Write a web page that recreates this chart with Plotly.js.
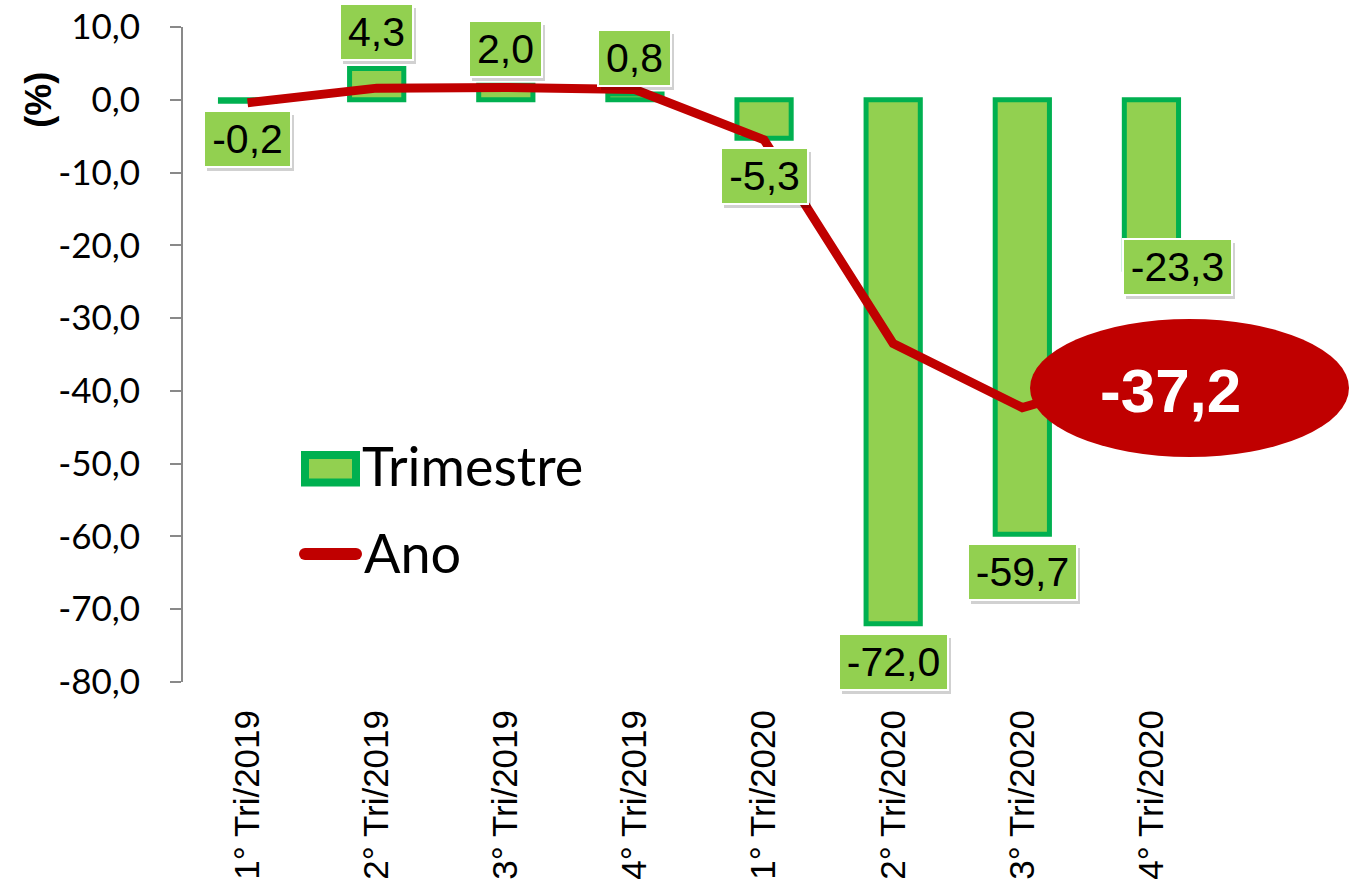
<!DOCTYPE html>
<html>
<head>
<meta charset="utf-8">
<script src="https://cdn.plot.ly/plotly-3.0.1.min.js"></script>
<style>
  html, body { margin: 0; padding: 0; background: #ffffff; }
  #chart { width: 1351px; height: 885px; }
</style>
</head>
<body>
<div id="chart"></div>
<script>
// Variação percentual: trimestre contra trimestre e acumulado em 12 meses
const categorias = ['1° Tri/2019', '2° Tri/2019', '3° Tri/2019', '4° Tri/2019',
                    '1° Tri/2020', '2° Tri/2020', '3° Tri/2020', '4° Tri/2020'];
const trimestre = [-0.2, 4.3, 2.0, 0.8, -5.3, -72.0, -59.7, -23.3];
const ano = [-0.4, 1.6, 1.7, 1.4, -5.5, -33.5, -42.3, -37.2];
const yTickVals = [10, 0, -10, -20, -30, -40, -50, -60, -70, -80];
const yTickText = ['10,0', '0,0', '-10,0', '-20,0', '-30,0', '-40,0', '-50,0', '-60,0', '-70,0', '-80,0'];
const nomesSeries = ['Trimestre', 'Ano'];

const VERDE = '#92D050';
const VERDE_BORDA = '#00B050';
const VERMELHO = '#C00000';
const CINZA = '#898989';

const W = 1351, H = 885;
const M = { l: 183, r: 135, t: 27, b: 203 };
const plotW = W - M.l - M.r;
const plotH = H - M.t - M.b;
const yMin = -80, yMax = 10;

// pixel position -> paper fraction
const px = x => (x - M.l) / plotW;
const py = y => (M.t + plotH - y) / plotH;

const fmt = v => v.toFixed(1).replace('.', ',');

// measure label text so every box gets the same side padding
const ctx = document.createElement('canvas').getContext('2d');
const LABEL_FONT = 'Liberation Sans, Arial, sans-serif';
const LABEL_SIZE = 41;
const LABEL_H = 52;
ctx.font = LABEL_SIZE + 'px ' + LABEL_FONT;
const textWidth = t => ctx.measureText(t).width;

const traces = [
  {
    type: 'bar',
    name: nomesSeries[0],
    x: categorias,
    y: trimestre,
    width: 0.42,
    marker: { color: VERDE, line: { color: VERDE_BORDA, width: 5 } },
    hoverinfo: 'x+y',
    showlegend: false
  },
  {
    type: 'scatter',
    mode: 'lines',
    name: nomesSeries[1],
    x: categorias,
    y: ano,
    line: { color: VERMELHO, width: 9 },
    hoverinfo: 'x+y',
    showlegend: false
  }
];

// data labels for the quarterly bars, each with a soft drop shadow box
const shadows = [];
const labels = [];
trimestre.forEach((v, i) => {
  const txt = fmt(v);
  let yanchor, yshift, xshift = 0;
  if (i === trimestre.length - 1) {
    yanchor = 'middle'; yshift = 2; xshift = 26;
  } else if (v >= 0) {
    yanchor = 'bottom'; yshift = 7;
  } else {
    yanchor = 'top'; yshift = -9;
  }
  const base = {
    x: categorias[i], y: v, xref: 'x', yref: 'y',
    showarrow: false,
    xanchor: 'center', yanchor: yanchor,
    width: Math.round(textWidth(txt)) + 12,
    height: LABEL_H,
    borderpad: 1,
    borderwidth: 2
  };
  shadows.push(Object.assign({}, base, {
    text: ' ',
    xshift: xshift + 3, yshift: yshift - 4,
    bgcolor: 'rgba(0,0,0,0.18)', bordercolor: 'rgba(0,0,0,0)',
    font: { family: LABEL_FONT, size: LABEL_SIZE, color: 'rgba(0,0,0,0)' }
  }));
  labels.push(Object.assign({}, base, {
    text: txt,
    xshift: xshift, yshift: yshift,
    bgcolor: VERDE, bordercolor: '#ffffff',
    font: { family: LABEL_FONT, size: LABEL_SIZE, color: '#000000' }
  }));
});

const ultimoAno = ano[ano.length - 1];

const annotations = shadows.concat(labels).concat([
  // axis unit
  {
    xref: 'paper', yref: 'y', x: px(39), y: 0,
    text: '(%)', textangle: -90, showarrow: false,
    xanchor: 'center', yanchor: 'middle',
    font: { family: 'Liberation Sans, Arial, sans-serif', size: 36, color: '#000000', weight: 'bold' }
  },
  // highlighted annual value
  {
    xref: 'paper', yref: 'paper', x: px(1170), y: py(390),
    text: '<b>' + fmt(ultimoAno) + '</b>', showarrow: false,
    xanchor: 'center', yanchor: 'middle',
    font: { family: 'Liberation Sans, Arial, sans-serif', size: 62, color: '#ffffff' }
  },
  // legend text
  {
    xref: 'paper', yref: 'paper', x: px(360), y: py(466),
    text: nomesSeries[0], showarrow: false,
    xanchor: 'left', yanchor: 'middle',
    font: { family: 'Lato, sans-serif', size: 54, color: '#000000' }
  },
  {
    xref: 'paper', yref: 'paper', x: px(362), y: py(552),
    text: nomesSeries[1], showarrow: false,
    xanchor: 'left', yanchor: 'middle',
    font: { family: 'Lato, sans-serif', size: 54, color: '#000000' }
  }
]);

const shapes = [
  // ellipse behind the annual value
  {
    type: 'circle', xref: 'paper', yref: 'paper', layer: 'above',
    x0: px(1030), x1: px(1349), y0: py(457), y1: py(319),
    fillcolor: VERMELHO, line: { width: 0 }
  },
  // legend keys
  {
    type: 'rect', xref: 'paper', yref: 'paper', layer: 'above',
    x0: px(305), x1: px(356), y0: py(482.5), y1: py(455),
    fillcolor: VERDE, line: { color: VERDE_BORDA, width: 8 }
  },
  {
    type: 'line', xref: 'paper', yref: 'paper', layer: 'above',
    x0: px(305), x1: px(356), y0: py(554), y1: py(554),
    line: { color: VERMELHO, width: 12 }
  },
  {
    type: 'circle', xref: 'paper', yref: 'paper', layer: 'above',
    x0: px(299), x1: px(311), y0: py(560), y1: py(548),
    fillcolor: VERMELHO, line: { width: 0 }
  },
  {
    type: 'circle', xref: 'paper', yref: 'paper', layer: 'above',
    x0: px(350), x1: px(362), y0: py(560), y1: py(548),
    fillcolor: VERMELHO, line: { width: 0 }
  }
];

const boundaries = categorias.map((c, i) => i + 0.5);

const layout = {
  width: W, height: H,
  margin: M,
  paper_bgcolor: '#ffffff',
  plot_bgcolor: '#ffffff',
  showlegend: false,
  xaxis: {
    type: 'category',
    range: [-0.5, categorias.length - 0.5],
    showline: false, showgrid: false, zeroline: false,
    ticks: '', tickangle: -90,
    ticklabelstandoff: 20,
    tickfont: { family: 'Liberation Sans, Arial, sans-serif', size: 35, color: '#000000' },
    fixedrange: true
  },
  // horizontal axis line drawn at zero, with ticks between categories
  xaxis2: {
    overlaying: 'x', anchor: 'free',
    position: (0 - yMin) / (yMax - yMin),
    range: [-0.5, categorias.length - 0.5],
    showline: true, linecolor: CINZA, linewidth: 2,
    ticks: 'outside', ticklen: 11, tickwidth: 2, tickcolor: CINZA,
    tickmode: 'array', tickvals: boundaries,
    showticklabels: false, showgrid: false, zeroline: false,
    fixedrange: true
  },
  yaxis: {
    range: [yMin, yMax],
    tickmode: 'array', tickvals: yTickVals, ticktext: yTickText,
    showline: true, linecolor: CINZA, linewidth: 2,
    ticks: 'outside', ticklen: 11, tickwidth: 2, tickcolor: CINZA,
    ticklabelstandoff: 23,
    showgrid: false, zeroline: false,
    tickfont: { family: 'Lato, sans-serif', size: 35, color: '#000000' },
    fixedrange: true
  },
  shapes: shapes,
  annotations: annotations
};

Plotly.newPlot('chart', traces, layout, { displayModeBar: false, responsive: false });
</script>
</body>
</html>
